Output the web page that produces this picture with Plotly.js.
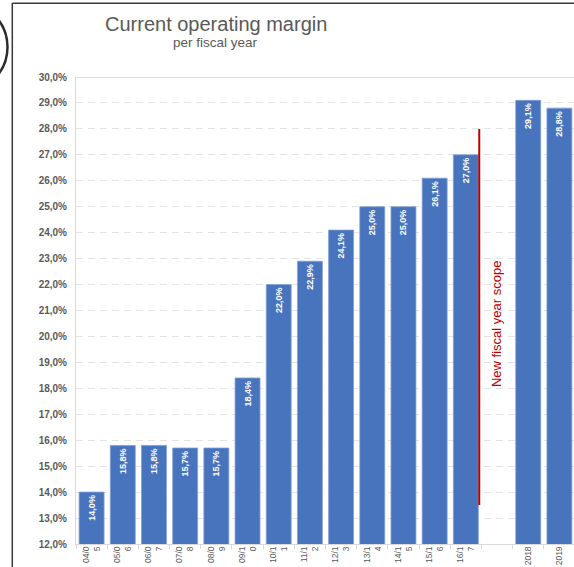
<!DOCTYPE html>
<html>
<head>
<meta charset="utf-8">
<script src="https://cdn.plot.ly/plotly-3.0.1.min.js"></script>
<style>
html,body{margin:0;padding:0;overflow:hidden;background:#fff;}
#chart{width:576px;height:567px;}
</style>
</head>
<body>
<div id="chart"></div>
<script>
var categories = ["04/0<br>5","05/0<br>6","06/0<br>7","07/0<br>8","08/0<br>9","09/1<br>0","10/1<br>1","11/1<br>2","12/1<br>3","13/1<br>4","14/1<br>5","15/1<br>6","16/1<br>7"," ","2018","2019"];
var margins = [14.0,15.8,15.8,15.7,15.7,18.4,22.0,22.9,24.1,25.0,25.0,26.1,27.0,null,29.1,28.8];
var barLabels = margins.map(function(v){ return v===null ? "" : v.toFixed(1).replace(".", ",") + "%"; });
var scopeLine = {x: 12.43, yFrom: 13.5, yTo: 28.0};

var L = 76, T = 77, W = 576, H = 567, B = 23, R = 1;
var pw = W - L - R, ph = H - T - B;
function px(x){ return (x - L) / pw; }
function py(y){ return (H - B - y) / ph; }

var trace = {
  type: "bar",
  x: categories,
  y: margins,
  text: barLabels,
  textposition: "inside",
  insidetextanchor: "end",
  textangle: -90,
  textfont: {color: "#ffffff", size: 9, family: "Liberation Sans, Arial, sans-serif", weight: "bold"},
  marker: {color: "#4874BD", line: {color: "#7f9fd6", width: 0.8}},
  hoverinfo: "skip",
  cliponaxis: false
};

var layout = {
  width: W, height: H,
  margin: {l: L, r: R, t: T, b: B},
  paper_bgcolor: "#ffffff",
  plot_bgcolor: "#ffffff",
  showlegend: false,
  bargap: 0.2,
  font: {family: "Liberation Sans, Arial, sans-serif", color: "#595959"},
  xaxis: {
    type: "category",
    range: [-0.5, 15.5],
    tickangle: -90,
    tickfont: {size: 8.5, color: "#595959"},
    showgrid: false,
    showline: true,
    linecolor: "#d9d9d9",
    linewidth: 1,
    ticks: "outside",
    tickson: "boundaries",
    ticklen: 4,
    tickcolor: "#d9d9d9",
    ticklabelstandoff: -2,
    fixedrange: true
  },
  yaxis: {
    range: [12, 30],
    dtick: 1,
    tick0: 12,
    tickformat: ".1f",
    ticksuffix: "%",
    tickfont: {size: 10, color: "#595959", weight: "bold"},
    showgrid: true,
    gridcolor: "#e3e3e3",
    griddash: "7px,5px",
    gridwidth: 1,
    showline: true,
    linecolor: "#d9d9d9",
    linewidth: 1,
    zeroline: false,
    ticks: "",
    ticklabelstandoff: 6,
    fixedrange: true
  },
  separators: ", ",
  shapes: [
    {type: "line", xref: "paper", yref: "y", x0: 0, x1: 1.01, y0: 30, y1: 30, line: {color: "#d0d0d0", width: 1.5}},
    {type: "line", xref: "x", yref: "y", x0: scopeLine.x, x1: scopeLine.x, y0: scopeLine.yFrom, y1: scopeLine.yTo, line: {color: "#c00000", width: 2}},
    {type: "line", xref: "paper", yref: "paper", x0: px(12.3), x1: px(12.3), y0: py(3), y1: py(570), line: {color: "#3a3a3a", width: 1.5}},
    {type: "line", xref: "paper", yref: "paper", x0: px(12.3), x1: px(580), y0: py(3.3), y1: py(3.3), line: {color: "#3a3a3a", width: 1.5}},
    {type: "circle", xref: "paper", yref: "paper", x0: px(-82), x1: px(7.5), y0: py(92), y1: py(2), line: {color: "#2b2b2b", width: 2.5}}
  ],
  annotations: [
    {text: "Current operating margin", xref: "paper", yref: "paper", x: px(216), y: py(24), xanchor: "center", yanchor: "middle", showarrow: false, font: {size: 20, color: "#595959", family: "Liberation Sans, Arial, sans-serif"}},
    {text: "per fiscal year", xref: "paper", yref: "paper", x: px(215), y: py(43), xanchor: "center", yanchor: "middle", showarrow: false, font: {size: 13.5, color: "#595959", family: "Liberation Sans, Arial, sans-serif"}},
    {text: "New fiscal year scope", xref: "x", yref: "y", x: 13, y: 20.48, textangle: -90, xanchor: "center", yanchor: "middle", showarrow: false, font: {size: 13, color: "#c00000", family: "Liberation Sans, Arial, sans-serif"}}
  ]
};

Plotly.newPlot("chart", [trace], layout, {displayModeBar: false, staticPlot: true});
</script>
</body>
</html>
